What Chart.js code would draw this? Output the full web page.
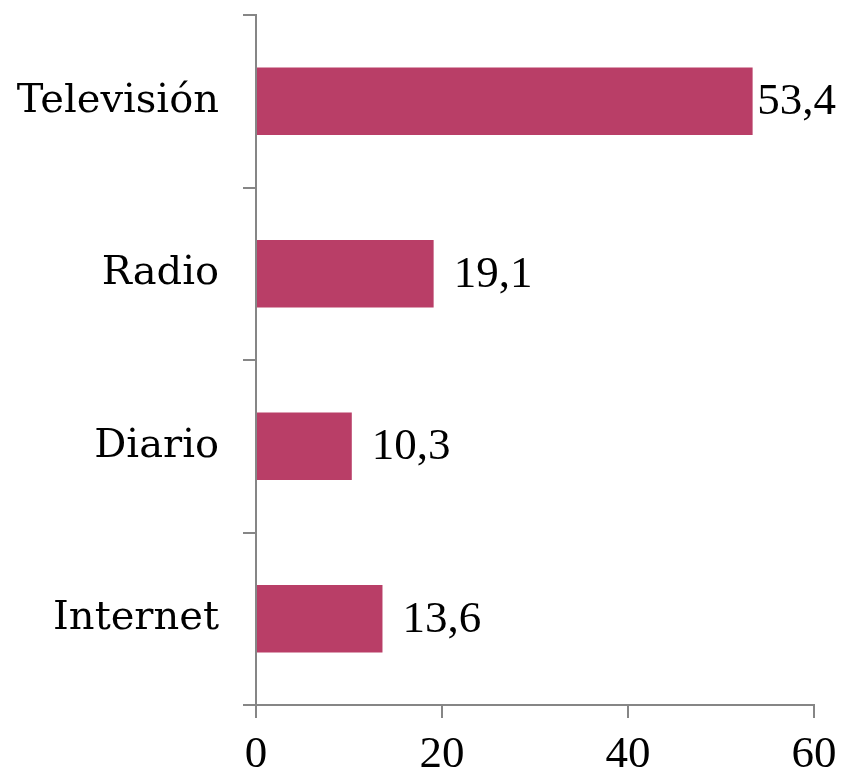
<!DOCTYPE html>
<html><head><meta charset="utf-8">
<script src="https://cdn.jsdelivr.net/npm/chart.js@4"></script>
<style>html,body{margin:0;padding:0;background:#fff}#w{width:850px;height:772px}</style>
</head><body><div id="w"><canvas id="c"></canvas></div>
<script>
const categories = ["Televisión", "Radio", "Diario", "Internet"];
const values = [53.4, 19.1, 10.3, 13.6];
const xTicks = [0, 20, 40, 60];

const catFont = {family: "DejaVu Serif", size: 40};
const numFont = {family: "Liberation Serif", size: 45};
const axisColor = "#868686";

const labelPlugin = {
  id: "vals",
  afterDatasetsDraw(chart) {
    const ctx = chart.ctx;
    const meta = chart.getDatasetMeta(0);
    ctx.save();
    ctx.font = numFont.size + "px '" + numFont.family + "'";
    ctx.fillStyle = "#000";
    ctx.textBaseline = "middle";
    ctx.textAlign = "left";
    meta.data.forEach((bar, i) => {
      const txt = values[i].toFixed(1).replace(".", ",");
      const w = ctx.measureText(txt).width;
      let x = bar.x + 20;
      x = Math.min(x, chart.width - w - 14);
      ctx.fillText(txt, x, bar.y + 1);
    });
    ctx.restore();
  }
};

new Chart(document.getElementById("c"), {
  type: "bar",
  data: {
    labels: categories,
    datasets: [{data: values, backgroundColor: "#B93E67", barPercentage: 0.39, categoryPercentage: 1}]
  },
  options: {
    indexAxis: "y",
    responsive: true,
    maintainAspectRatio: false,
    animation: false,
    layout: {padding: {top: 15, right: 36, left: 0, bottom: 0}},
    plugins: {legend: {display: false}, tooltip: {enabled: false}},
    scales: {
      x: {
        min: 0, max: 60,
        afterBuildTicks(s) { s.ticks = xTicks.map(v => ({value: v})); },
        afterFit(s) { s.height = 67; s.paddingLeft = 0; s.paddingRight = 0; },
        grid: {drawOnChartArea: false, color: axisColor, lineWidth: 2, tickLength: 13, tickColor: axisColor},
        border: {color: axisColor, width: 2},
        ticks: {font: numFont, color: "#000", padding: 10, maxRotation: 0}
      },
      y: {
        afterFit(s) { s.width = 256; s.paddingTop = 0; s.paddingBottom = 0; },
        grid: {drawOnChartArea: false, offset: true, color: axisColor, lineWidth: 2, tickLength: 13, tickColor: axisColor},
        border: {color: axisColor, width: 2},
        ticks: {font: catFont, color: "#000", padding: 24}
      }
    }
  },
  plugins: [labelPlugin]
});
</script></body></html>
